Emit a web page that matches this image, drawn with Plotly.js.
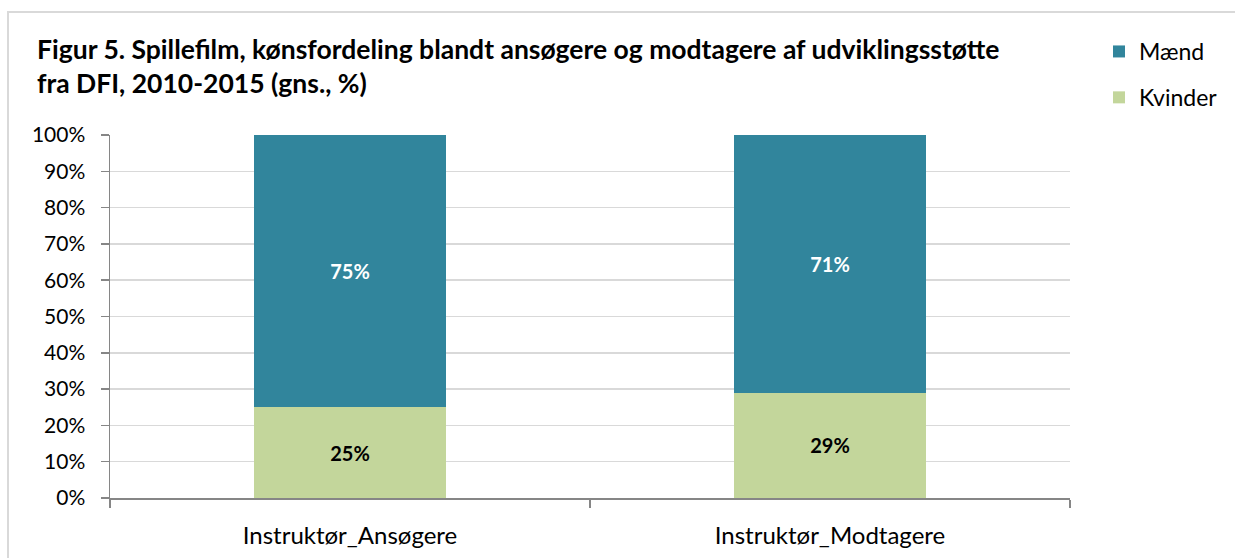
<!DOCTYPE html>
<html>
<head>
<meta charset="utf-8">
<script src="https://cdn.plot.ly/plotly-3.0.1.min.js"></script>
<style>html,body{margin:0;padding:0;background:#fff;}#chart{width:1235px;height:558px;}</style>
</head>
<body>
<div id="chart"></div>
<script>
const categories = ["Instruktør_Ansøgere", "Instruktør_Modtagere"];
const kvinder = [0.25, 0.29];
const maend = [0.75, 0.71];
const kvinderLabels = ["25%", "29%"];
const maendLabels = ["75%", "71%"];
const yTickVals = [0, 0.1, 0.2, 0.3, 0.4, 0.5, 0.6, 0.7, 0.8, 0.9, 1.0];
const yTickText = ["0%", "10%", "20%", "30%", "40%", "50%", "60%", "70%", "80%", "90%", "100%"];

const FONT = "Lato, 'Open Sans', sans-serif";

const traces = [
  {
    type: "bar", name: "Kvinder", x: categories, y: kvinder,
    text: kvinderLabels, textposition: "inside", insidetextanchor: "middle",
    textfont: {family: FONT, size: 20, color: "#000000", weight: "bold"},
    marker: {color: "#c3d69b"}, legendgroup: "k", legendrank: 2, hoverinfo: "skip"
  },
  {
    type: "bar", name: "Mænd", x: categories, y: maend,
    text: maendLabels, textposition: "inside", insidetextanchor: "middle",
    textfont: {family: FONT, size: 20, color: "#ffffff", weight: "bold"},
    marker: {color: "#31859c"}, legendgroup: "m", legendrank: 1, hoverinfo: "skip"
  }
];

const layout = {
  width: 1235, height: 558,
  margin: {l: 110, r: 165, t: 135, b: 60},
  barmode: "stack", bargap: 0.6,
  paper_bgcolor: "#ffffff", plot_bgcolor: "#ffffff",
  font: {family: FONT, color: "#000000", size: 21},
  title: {
    text: "<b>Figur 5. Spillefilm, kønsfordeling blandt ansøgere og modtagere af udviklingsstøtte<br>fra DFI, 2010-2015 (gns., %)</b>",
    font: {family: FONT, size: 26.5, color: "#000000"},
    x: 37 / 1235, xanchor: "left", xref: "container",
    y: 1 - 59 / 558, yanchor: "top", yref: "container"
  },
  xaxis: {
    type: "category", tickson: "boundaries", ticks: "outside", ticklen: 8, tickcolor: "#868686", tickwidth: 1.5,
    showline: true, linecolor: "#868686", linewidth: 1.5, showgrid: false,
    tickfont: {family: FONT, size: 24, color: "#000000"}, ticklabelstandoff: 16
  },
  yaxis: {
    range: [0, 1], tickvals: yTickVals, ticktext: yTickText,
    ticks: "outside", ticklen: 8, tickcolor: "#868686", tickwidth: 1.5,
    showline: true, linecolor: "#868686", linewidth: 1.5,
    showgrid: true, gridcolor: "#d9d9d9", gridwidth: 1.5, zeroline: false,
    tickfont: {family: FONT, size: 21, color: "#000000"}, ticklabelstandoff: 11
  },
  legend: {
    x: 1099 / 1235, xref: "container", xanchor: "left",
    y: 1 - 30 / 558, yref: "container", yanchor: "top",
    traceorder: "grouped", tracegroupgap: 13,
    font: {family: FONT, size: 23, color: "#000000"}, bgcolor: "rgba(0,0,0,0)"
  },
  shapes: [{
    type: "rect", xref: "paper", yref: "paper",
    x0: -102 / 960, x1: 1140 / 960, y0: -67 / 363, y1: 486 / 363,
    line: {color: "#d9d9d9", width: 2}, fillcolor: "rgba(0,0,0,0)", layer: "below"
  }],
  showlegend: true
};

Plotly.newPlot("chart", traces, layout, {displayModeBar: false, staticPlot: true});
</script>
</body>
</html>
